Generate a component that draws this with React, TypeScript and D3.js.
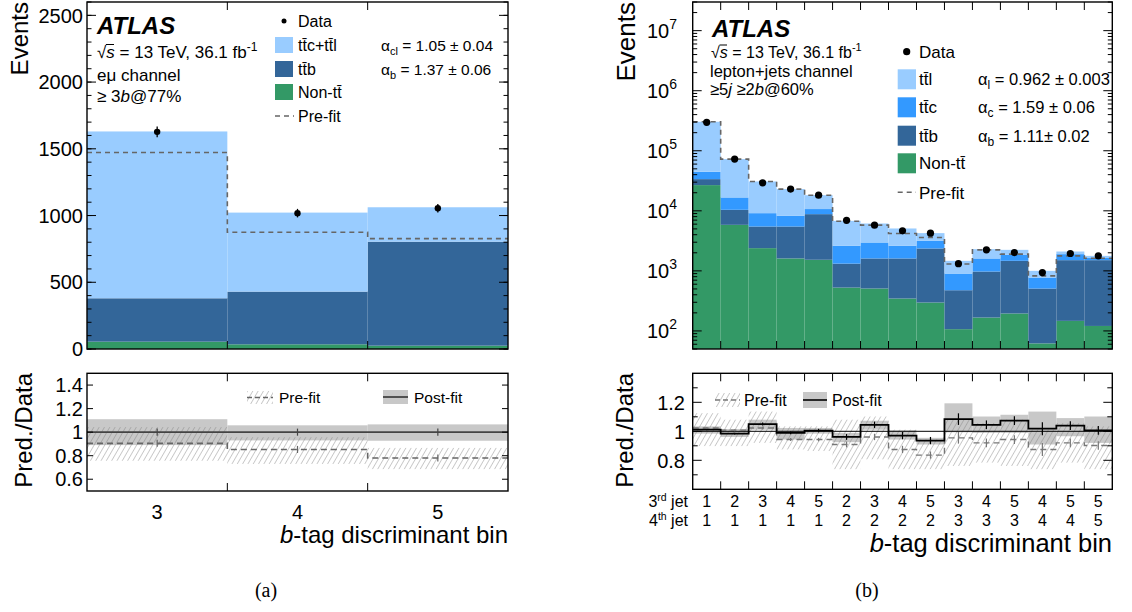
import React from "react";
import * as d3 from "d3";

// ---------- Left panel (eμ channel) ----------
const leftBins = ["3", "4", "5"];
const leftNonTT = [55, 35, 25];
const leftTTB = [325, 395, 779];
const leftTTCL = [1250, 592, 258];
const leftPrefit = [1472, 875, 827];
const leftData = [1627, 1018, 1055];
const leftDataErr = [40, 32, 32];
const leftPostRatio = [1, 1, 1];
const leftPostLo = [0.89, 0.93, 0.927];
const leftPostHi = [1.11, 1.058, 1.066];
const leftPreRatio = [0.905, 0.853, 0.78];
const leftPreLo = [0.757, 0.73, 0.686];
const leftPreHi = [1.043, 0.957, 0.866];
const leftRatioErr = [0.03, 0.03, 0.03];
const leftYTicks = [0, 500, 1000, 1500, 2000, 2500];
const leftRatioTicks = [0.6, 0.8, 1, 1.2, 1.4];

// ---------- Right panel (lepton+jets channel) ----------
const thirdJet = ["1", "2", "3", "4", "5", "2", "3", "4", "5", "3", "4", "5", "4", "5", "5"];
const fourthJet = ["1", "1", "1", "1", "1", "2", "2", "2", "2", "3", "3", "3", "4", "4", "5"];
const rightNonTT = [26800, 5840, 2390, 1610, 1530, 527, 508, 346, 297, 107, 167, 195, 62, 147, 121];
const rightTTB = [6900, 4560, 3090, 3870, 7270, 793, 1102, 1264, 2063, 369, 808, 1275, 446, 1360, 1386];
const rightTTC = [11000, 6300, 3660, 2770, 1900, 1290, 1360, 1000, 800, 427, 635, 380, 266, 393, 161];
const rightTTL = [259300, 55900, 21660, 14750, 7500, 4200, 3180, 2470, 1090, 567, 690, 390, 226, 200, 110];
const rightPrefit = [304000, 72600, 30800, 23000, 18200, 6700, 5770, 4190, 3590, 1300, 2240, 1900, 826, 1778, 1626];
const rightData = [297000, 72600, 29300, 23000, 18200, 6950, 5770, 4640, 4250, 1320, 2240, 2020, 938, 1945, 1778];
const rightPostRatio = [1.011, 0.984, 1.05, 0.989, 1.005, 0.961, 1.045, 0.97, 0.936, 1.084, 1.045, 1.073, 1.018, 1.039, 1.007];
const rightPostLo = [0.984, 0.961, 1.011, 0.943, 0.984, 0.925, 1.011, 0.943, 0.909, 0.993, 0.989, 0.989, 0.909, 0.966, 0.92];
const rightPostHi = [1.034, 1.016, 1.08, 1.023, 1.023, 0.989, 1.073, 1.007, 0.955, 1.193, 1.102, 1.114, 1.136, 1.091, 1.102];
const rightPreRatio = [1.023, 1.007, 1.023, 0.943, 0.943, 0.909, 0.961, 0.875, 0.836, 0.955, 0.92, 0.943, 0.875, 0.92, 0.902];
const rightPreLo = [0.898, 0.898, 0.92, 0.875, 0.864, 0.739, 0.807, 0.739, 0.739, 0.761, 0.784, 0.761, 0.739, 0.784, 0.739];
const rightPreHi = [1.125, 1.08, 1.136, 1.034, 1.034, 1.08, 1.102, 1.011, 0.943, 1.08, 1.057, 1.08, 1.011, 1.057, 1.034];
const rightRatioErr = [0.004, 0.006, 0.01, 0.01, 0.012, 0.02, 0.022, 0.025, 0.025, 0.04, 0.03, 0.03, 0.045, 0.03, 0.03];
const rightDecades = [2, 3, 4, 5, 6, 7];
const rightRatioMajor = [0.8, 1, 1.2];
const rightRatioMinor = [0.7, 0.9, 1.1, 1.3];

const C_LIGHT = "#99ccff";
const C_MID = "#3399ff";
const C_DARK = "#336699";
const C_GREEN = "#339966";
const C_BAND = "#c8c8c8";
const FONT = "'Liberation Sans', Arial, Helvetica, sans-serif";
const TT = "tt\u0304";

function stepPath(vals: number[], x: any, y: any) {
  const pts: [number, number][] = vals.map((v, i) => [i, v]);
  pts.push([vals.length, vals[vals.length - 1]]);
  return d3.line<[number, number]>().x(d => x(d[0])).y(d => y(d[1])).curve(d3.curveStepAfter)(pts) || "";
}

function YTicks({ scale, values, x0, x1, len }: any) {
  return (
    <g stroke="#000" strokeWidth={1}>
      {values.map((v: number, i: number) => (
        <g key={i}>
          <line x1={x0} x2={x0 + len} y1={scale(v)} y2={scale(v)} />
          <line x1={x1 - len} x2={x1} y1={scale(v)} y2={scale(v)} />
        </g>
      ))}
    </g>
  );
}

function XTicks({ scale, values, yTop, yBot, len }: any) {
  return (
    <g stroke="#000" strokeWidth={1}>
      {values.map((v: number, i: number) => (
        <g key={i}>
          <line x1={scale(v)} x2={scale(v)} y1={yBot} y2={yBot - len} />
          <line x1={scale(v)} x2={scale(v)} y1={yTop} y2={yTop + len} />
        </g>
      ))}
    </g>
  );
}

export default function App() {
  const xL = d3.scaleLinear().domain([0, 3]).range([87, 508]);
  const yL = d3.scaleLinear().domain([0, 2600]).range([349, 2]);
  const yLR = d3.scaleLinear().domain([0.5, 1.5]).range([491, 373.3]);
  const xR = d3.scaleLinear().domain([0, 15]).range([692.7, 1112.3]);
  const yR = d3.scaleLog().domain([50, 3e7]).range([349, 2]).clamp(true);
  const yRR = d3.scaleLinear().domain([0.6, 1.4]).range([489.3, 373.3]);

  const leftRows = leftBins.map((_, i) => ({ nonTT: leftNonTT[i], ttb: leftTTB[i], ttcl: leftTTCL[i] }));
  const leftStack = d3.stack<any>().keys(["nonTT", "ttb", "ttcl"])(leftRows);
  const leftColors = [C_GREEN, C_DARK, C_LIGHT];

  const rightRows = thirdJet.map((_, i) => ({ nonTT: rightNonTT[i], ttb: rightTTB[i], ttc: rightTTC[i], ttl: rightTTL[i] }));
  const rightStack = d3.stack<any>().keys(["nonTT", "ttb", "ttc", "ttl"])(rightRows);
  const rightColors = [C_GREEN, C_DARK, C_MID, C_LIGHT];

  const leftMinor = d3.range(0, 2601, 100);
  const rightMinor: number[] = [];
  for (let d = 1; d <= 7; d++) for (let m = 2; m <= 9; m++) {
    const v = m * Math.pow(10, d);
    if (v >= 50 && v <= 3e7) rightMinor.push(v);
  }
  const leftEdges = [1, 2];
  const rightEdges = d3.range(1, 15);

  const lx0 = xL(0), lx1 = xL(3), rx0 = xR(0), rx1 = xR(15);

  return (
    <svg width={1132} height={612} style={{ position: "absolute", left: 0, top: 0, background: "#fff" }} fontFamily={FONT}>
      <defs>
        <pattern id="hatch" patternUnits="userSpaceOnUse" width={4.6} height={10} patternTransform="rotate(30)">
          <line x1={0} y1={0} x2={0} y2={10} stroke="#808080" strokeWidth={0.85} />
        </pattern>
      </defs>
      <rect width={1132} height={612} fill="#fff" />

      {/* ================= LEFT TOP ================= */}
      <g>
        {leftStack.map((layer, k) => (
          <g key={k} fill={leftColors[k]}>
            {layer.map((d, i) => (
              <rect key={i} x={xL(i)} width={xL(i + 1) - xL(i)} y={yL(d[1])} height={yL(d[0]) - yL(d[1])} />
            ))}
          </g>
        ))}
        <path d={stepPath(leftPrefit, xL, yL)} fill="none" stroke="#666" strokeWidth={1.6} strokeDasharray="5,4" />
        {leftData.map((v, i) => (
          <g key={i}>
            <line x1={xL(i + 0.5)} x2={xL(i + 0.5)} y1={yL(v - leftDataErr[i])} y2={yL(v + leftDataErr[i])} stroke="#000" strokeWidth={1.3} />
            <circle cx={xL(i + 0.5)} cy={yL(v)} r={3.2} fill="#000" />
          </g>
        ))}
        <YTicks scale={yL} values={leftMinor} x0={lx0} x1={lx1} len={4.5} />
        <YTicks scale={yL} values={leftYTicks} x0={lx0} x1={lx1} len={9} />
        <XTicks scale={xL} values={leftEdges} yTop={2} yBot={349} len={8} />
        <rect x={lx0} y={2} width={lx1 - lx0} height={347} fill="none" stroke="#000" strokeWidth={1.4} />
        {leftYTicks.map((v, i) => (
          <text key={i} x={83} y={yL(v)} dy="0.36em" textAnchor="end" fontSize={20}>{v}</text>
        ))}
        <text transform="translate(28,2) rotate(-90)" textAnchor="end" fontSize={24}>Events</text>

        <text x={97} y={34} fontSize={24} fontWeight="bold" fontStyle="italic">ATLAS</text>
        <text x={97} y={58} fontSize={17}>√<tspan fontStyle="italic">s</tspan> = 13 TeV, 36.1 fb<tspan dy={-7} fontSize={12}>-1</tspan></text>
        <line x1={106} x2={114} y1={44.5} y2={44.5} stroke="#000" strokeWidth={1} />
        <text x={97} y={81} fontSize={17}>eμ channel</text>
        <text x={97} y={102} fontSize={17}>≥ 3<tspan fontStyle="italic">b</tspan>@77%</text>

        <circle cx={284} cy={21} r={2.5} fill="#000" />
        <text x={298} y={27} fontSize={16}>Data</text>
        <rect x={275} y={37} width={18} height={16} fill={C_LIGHT} />
        <text x={298} y={51} fontSize={16}>{TT}c+{TT}l</text>
        <rect x={275} y={61} width={18} height={16} fill={C_DARK} />
        <text x={298} y={75} fontSize={16}>{TT}b</text>
        <rect x={275} y={84} width={18} height={16} fill={C_GREEN} />
        <text x={298} y={98} fontSize={16}>Non-{TT}</text>
        <line x1={275} x2={294} y1={116} y2={116} stroke="#666" strokeWidth={1.6} strokeDasharray="5,4" />
        <text x={298} y={122} fontSize={16}>Pre-fit</text>
        <text x={381} y={51} fontSize={15.5}>α<tspan dy={4} fontSize={11}>cl</tspan><tspan dy={-4}> = 1.05 ± 0.04</tspan></text>
        <text x={381} y={75} fontSize={15.5}>α<tspan dy={4} fontSize={11}>b</tspan><tspan dy={-4}> = 1.37 ± 0.06</tspan></text>
      </g>

      {/* ================= LEFT RATIO ================= */}
      <g>
        {leftPostLo.map((lo, i) => (
          <rect key={i} x={xL(i)} width={xL(i + 1) - xL(i)} y={yLR(leftPostHi[i])} height={yLR(lo) - yLR(leftPostHi[i])} fill={C_BAND} />
        ))}
        {leftPreLo.map((lo, i) => (
          <rect key={i} x={xL(i)} width={xL(i + 1) - xL(i)} y={yLR(leftPreHi[i])} height={yLR(lo) - yLR(leftPreHi[i])} fill="url(#hatch)" />
        ))}
        <path d={stepPath(leftPostRatio, xL, yLR)} fill="none" stroke="#444" strokeWidth={1.6} />
        <path d={stepPath(leftPreRatio, xL, yLR)} fill="none" stroke="#666" strokeWidth={1.6} strokeDasharray="6,4" />
        {leftPostRatio.map((v, i) => (
          <g key={i} stroke="#444" strokeWidth={1.2}>
            <line x1={xL(i + 0.5)} x2={xL(i + 0.5)} y1={yLR(v - leftRatioErr[i])} y2={yLR(v + leftRatioErr[i])} />
            <line x1={xL(i + 0.5)} x2={xL(i + 0.5)} y1={yLR(leftPreRatio[i] - leftRatioErr[i])} y2={yLR(leftPreRatio[i] + leftRatioErr[i])} stroke="#666" />
          </g>
        ))}
        <YTicks scale={yLR} values={leftRatioTicks} x0={lx0} x1={lx1} len={6} />
        <XTicks scale={xL} values={leftEdges} yTop={373.3} yBot={491} len={8} />
        <rect x={lx0} y={373.3} width={lx1 - lx0} height={491 - 373.3} fill="none" stroke="#000" strokeWidth={1.4} />
        {leftRatioTicks.map((v, i) => (
          <text key={i} x={83} y={yLR(v)} dy="0.36em" textAnchor="end" fontSize={20}>{String(v)}</text>
        ))}
        {leftBins.map((b, i) => (
          <text key={i} x={xL(i + 0.5)} y={519} textAnchor="middle" fontSize={20}>{b}</text>
        ))}
        <text transform="translate(31.5,373) rotate(-90)" textAnchor="end" fontSize={24}>Pred./Data</text>
        <text x={508} y={543} textAnchor="end" fontSize={24}><tspan fontStyle="italic">b</tspan>-tag discriminant bin</text>

        <rect x={247} y={391} width={26} height={13} fill="url(#hatch)" />
        <line x1={247} x2={273} y1={397.5} y2={397.5} stroke="#666" strokeWidth={1.5} strokeDasharray="5,3" />
        <text x={279} y={403} fontSize={15.5}>Pre-fit</text>
        <rect x={383} y={390} width={25} height={14} fill={C_BAND} />
        <line x1={383} x2={408} y1={397} y2={397} stroke="#333" strokeWidth={1.6} />
        <text x={414} y={403} fontSize={15.5}>Post-fit</text>
        <text x={266} y={597} textAnchor="middle" fontSize={20} fontFamily="'Liberation Serif', 'Times New Roman', serif">(a)</text>
      </g>

      {/* ================= RIGHT TOP ================= */}
      <g>
        {rightStack.map((layer, k) => (
          <g key={k} fill={rightColors[k]}>
            {layer.map((d, i) => (
              <rect key={i} x={xR(i)} width={xR(i + 1) - xR(i)} y={yR(d[1])} height={yR(Math.max(d[0], 50)) - yR(d[1])} />
            ))}
          </g>
        ))}
        <path d={stepPath(rightPrefit, xR, yR)} fill="none" stroke="#666" strokeWidth={1.6} strokeDasharray="5,4" />
        {rightData.map((v, i) => (
          <circle key={i} cx={xR(i + 0.5)} cy={yR(v)} r={3.6} fill="#000" />
        ))}
        <YTicks scale={yR} values={rightMinor} x0={rx0} x1={rx1} len={4.5} />
        <YTicks scale={yR} values={rightDecades.map(d => Math.pow(10, d))} x0={rx0} x1={rx1} len={9} />
        <XTicks scale={xR} values={rightEdges} yTop={2} yBot={349} len={8} />
        <rect x={rx0} y={2} width={rx1 - rx0} height={347} fill="none" stroke="#000" strokeWidth={1.4} />
        {rightDecades.map((d, i) => (
          <text key={i} x={677} y={yR(Math.pow(10, d)) + 7} textAnchor="end" fontSize={20}>
            10<tspan dy={-9} fontSize={14}>{d}</tspan>
          </text>
        ))}
        <text transform="translate(635,2) rotate(-90)" textAnchor="end" fontSize={26}>Events</text>

        <text x={712} y={37} fontSize={24} fontWeight="bold" fontStyle="italic">ATLAS</text>
        <text x={711} y={58} fontSize={16}>√<tspan fontStyle="italic">s</tspan> = 13 TeV, 36.1 fb<tspan dy={-7} fontSize={11}>-1</tspan></text>
        <line x1={719.5} x2={727} y1={45} y2={45} stroke="#000" strokeWidth={1} />
        <text x={710} y={77} fontSize={16.5}>lepton+jets channel</text>
        <text x={710} y={95} fontSize={16.5}>≥5<tspan fontStyle="italic">j</tspan>  ≥2<tspan fontStyle="italic">b</tspan>@60%</text>

        <circle cx={906.7} cy={51.7} r={3.6} fill="#000" />
        <text x={919} y={58} fontSize={17}>Data</text>
        {[
          { c: C_LIGHT, t: TT + "l", y: 79.3, a: "l", v: "0.962 ± 0.003" },
          { c: C_MID, t: TT + "c", y: 107.3, a: "c", v: "1.59 ± 0.06" },
          { c: C_DARK, t: TT + "b", y: 135.7, a: "b", v: "1.11± 0.02" },
          { c: C_GREEN, t: "Non-" + TT, y: 163.3, a: "", v: "" },
        ].map((e, i) => (
          <g key={i}>
            <rect x={897.7} y={e.y - 10} width={18.3} height={20} fill={e.c} />
            <text x={919} y={e.y + 6} fontSize={17}>{e.t}</text>
            {e.a && (
              <text x={978} y={e.y + 6} fontSize={16.5}>α<tspan dy={4} fontSize={12}>{e.a}</tspan><tspan dy={-4}> = {e.v}</tspan></text>
            )}
          </g>
        ))}
        <line x1={897.7} x2={916} y1={192.3} y2={192.3} stroke="#666" strokeWidth={1.6} strokeDasharray="5,4" />
        <text x={919} y={198.5} fontSize={17}>Pre-fit</text>
      </g>

      {/* ================= RIGHT RATIO ================= */}
      <g>
        {rightPostLo.map((lo, i) => (
          <rect key={i} x={xR(i)} width={xR(i + 1) - xR(i)} y={yRR(rightPostHi[i])} height={yRR(lo) - yRR(rightPostHi[i])} fill={C_BAND} />
        ))}
        {rightPreLo.map((lo, i) => (
          <rect key={i} x={xR(i)} width={xR(i + 1) - xR(i)} y={yRR(rightPreHi[i])} height={yRR(lo) - yRR(rightPreHi[i])} fill="url(#hatch)" />
        ))}
        <line x1={rx0} x2={rx1} y1={yRR(1)} y2={yRR(1)} stroke="#000" strokeWidth={1} />
        <path d={stepPath(rightPreRatio, xR, yRR)} fill="none" stroke="#777" strokeWidth={1.4} strokeDasharray="6,4" />
        <path d={stepPath(rightPostRatio, xR, yRR)} fill="none" stroke="#000" strokeWidth={1.8} />
        {rightPostRatio.map((v, i) => (
          <g key={i} strokeWidth={1.2}>
            <line x1={xR(i + 0.5)} x2={xR(i + 0.5)} y1={yRR(v - rightRatioErr[i])} y2={yRR(v + rightRatioErr[i])} stroke="#000" />
            <line x1={xR(i + 0.5)} x2={xR(i + 0.5)} y1={yRR(rightPreRatio[i] - rightRatioErr[i])} y2={yRR(rightPreRatio[i] + rightRatioErr[i])} stroke="#777" />
          </g>
        ))}
        <YTicks scale={yRR} values={rightRatioMinor} x0={rx0} x1={rx1} len={5} />
        <YTicks scale={yRR} values={rightRatioMajor} x0={rx0} x1={rx1} len={9} />
        <XTicks scale={xR} values={rightEdges} yTop={373.3} yBot={489.3} len={8} />
        <rect x={rx0} y={373.3} width={rx1 - rx0} height={489.3 - 373.3} fill="none" stroke="#000" strokeWidth={1.4} />
        {rightRatioMajor.map((v, i) => (
          <text key={i} x={685} y={yRR(v)} dy="0.36em" textAnchor="end" fontSize={20}>{String(v)}</text>
        ))}
        <text transform="translate(633,373) rotate(-90)" textAnchor="end" fontSize={24}>Pred./Data</text>
        <text x={688} y={507} textAnchor="end" fontSize={16}>3<tspan dy={-6} fontSize={10.5}>rd</tspan><tspan dy={6}> jet</tspan></text>
        <text x={688} y={526} textAnchor="end" fontSize={16}>4<tspan dy={-6} fontSize={10.5}>th</tspan><tspan dy={6}> jet</tspan></text>
        {thirdJet.map((t, i) => (
          <text key={"a" + i} x={xR(i + 0.5)} y={507} textAnchor="middle" fontSize={16}>{t}</text>
        ))}
        {fourthJet.map((t, i) => (
          <text key={"b" + i} x={xR(i + 0.5)} y={526} textAnchor="middle" fontSize={16}>{t}</text>
        ))}
        <text x={1112} y={552} textAnchor="end" fontSize={25.5}><tspan fontStyle="italic">b</tspan>-tag discriminant bin</text>

        <rect x={715} y={393} width={25} height={14} fill="url(#hatch)" />
        <line x1={715} x2={740} y1={400} y2={400} stroke="#777" strokeWidth={1.4} strokeDasharray="5,3" />
        <text x={744} y={406} fontSize={16}>Pre-fit</text>
        <rect x={803} y={392} width={24} height={16} fill={C_BAND} />
        <line x1={803} x2={827} y1={400} y2={400} stroke="#000" strokeWidth={1.6} />
        <text x={832} y={406} fontSize={16}>Post-fit</text>
        <text x={867} y={597} textAnchor="middle" fontSize={20} fontFamily="'Liberation Serif', 'Times New Roman', serif">(b)</text>
      </g>
    </svg>
  );
}
